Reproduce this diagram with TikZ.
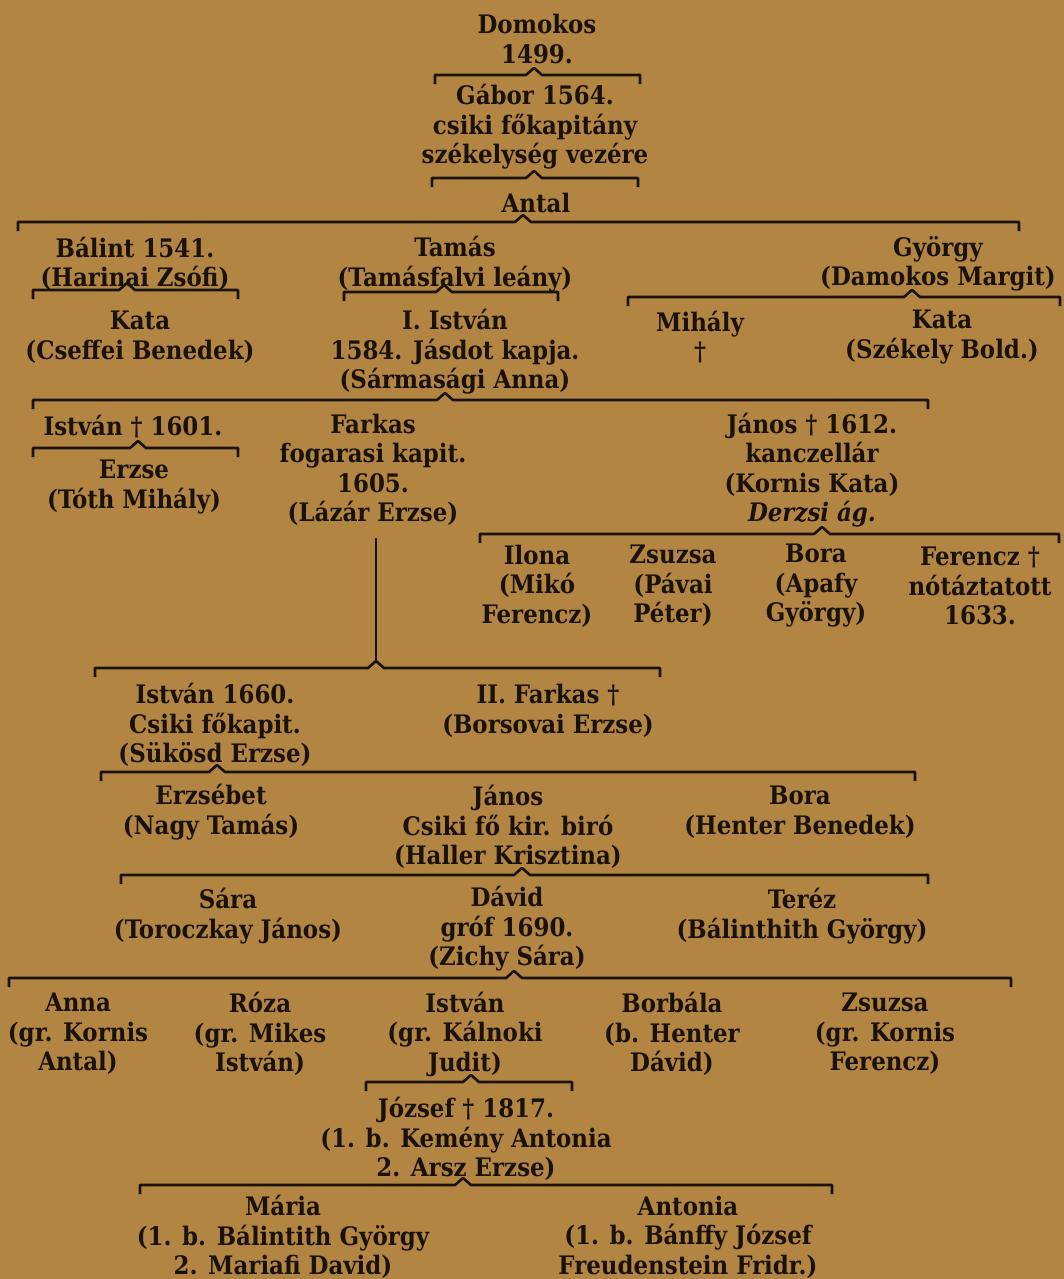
\documentclass[tikz,border=0pt]{standalone}
\usepackage{fontspec}
\setmainfont{DejaVu Serif Condensed}
\usepackage{xcolor}
\usetikzlibrary{calc}
\definecolor{paper}{RGB}{178,134,66}
\definecolor{ink}{RGB}{26,18,10}
\tikzset{
    person/.style={align=center, inner sep=1pt, text=ink,
        font=\fontsize{14.5}{16.8}\selectfont\bfseries},
    kinline/.style={draw=ink, line width=1.5pt, line join=round},
}
\NewDocumentCommand{\kinbrace}{%
    O{0}    % shift of the tip from the parent's axis
    mm      % left and right ends of the brace
    m       % parent node
    }{%
    \draw[kinline] ($(#2)+(0,9)$) -- (#2)
        -- ($(#4.center |- #2)+(#1-8,0)$)
        -- ($(#4.center |- #2)+(#1,-7)$)
        -- ($(#4.center |- #2)+(#1+8,0)$)
        -- (#3) -- ($(#3)+(0,9)$);
}

\begin{document}
\begin{tikzpicture}[x=0.02cm, y=-0.02cm]
    \useasboundingbox (0,0) rectangle (1064,1279);
    \fill[paper] (0,0) rectangle (1064,1279);
    % generations, top to bottom
    \node[person] (domokos) at (537,39) {Domokos\\1499.};
    \node[person] (gabor) at (535,127) {Gábor 1564.\\csiki főkapitány\\székelység vezére};
    \node[person] (antal) at (536,203) {Antal};
    \node[person] (balint) at (135,264) {Bálint 1541.\\(Harinai Zsófi)};
    \node[person] (tamas) at (455,264) {Tamás\\(Tamásfalvi leány)};
    \node[person] (gyorgy) at (938,264) {György\\(Damokos Margit)};
    \node[person] (kataB) at (140,337) {Kata\\(Cseffei Benedek)};
    \node[person] (istvanI) at (455,352) {I. István\\1584. Jásdot kapja.\\(Sármasági Anna)};
    \node[person] (mihaly) at (700,337) {Mihály\\†};
    \node[person] (kataS) at (942,337) {Kata\\(Székely Bold.)};
    \node[person] (istvanA) at (133,427) {István † 1601.};
    \node[person] (erzse) at (134,487) {Erzse\\(Tóth Mihály)};
    \node[person] (farkas) at (373,470) {Farkas\\fogarasi kapit.\\1605.\\(Lázár Erzse)};
    \node[person] (janosD) at (812,470) {János † 1612.\\kanczellár\\(Kornis Kata)\\\textit{Derzsi ág.}};
    \node[person] (ilona) at (537,586) {Ilona\\(Mikó\\Ferencz)};
    \node[person] (zsuzsaP) at (673,586) {Zsuzsa\\(Pávai\\Péter)};
    \node[person] (boraA) at (816,586) {Bora\\(Apafy\\György)};
    \node[person] (ferencz) at (980,586) {Ferencz †\\nótáztatott\\1633.};
    \node[person] (istvanC) at (215,725) {István 1660.\\Csiki főkapit.\\(Sükösd Erzse)};
    \node[person] (farkasII) at (548,711) {II. Farkas †\\(Borsovai Erzse)};
    \node[person] (erzsebet) at (211,812) {Erzsébet\\(Nagy Tamás)};
    \node[person] (janosB) at (508,827) {János\\Csiki fő kir. biró\\(Haller Krisztina)};
    \node[person] (boraH) at (800,812) {Bora\\(Henter Benedek)};
    \node[person] (sara) at (228,916) {Sára\\(Toroczkay János)};
    \node[person] (david) at (507,929) {Dávid\\gróf 1690.\\(Zichy Sára)};
    \node[person] (terez) at (802,916) {Teréz\\(Bálinthith György)};
    \node[person] (anna) at (78,1034) {Anna\\(gr. Kornis\\Antal)};
    \node[person] (roza) at (260,1034) {Róza\\(gr. Mikes\\István)};
    \node[person] (istvanK) at (465,1034) {István\\(gr. Kálnoki\\Judit)};
    \node[person] (borbala) at (672,1034) {Borbála\\(b. Henter\\Dávid)};
    \node[person] (zsuzsaK) at (885,1034) {Zsuzsa\\(gr. Kornis\\Ferencz)};
    \node[person] (jozsef) at (466,1139) {József † 1817.\\(1. b. Kemény Antonia\\2. Arsz Erzse)};
    \node[person] (maria) at (283,1237) {Mária\\(1. b. Bálintith György\\2. Mariafi David)};
    \node[person] (antonia) at (688,1237) {Antonia\\(1. b. Bánffy József\\Freudenstein Fridr.)};
    % braces under each parent
    \foreach \xl/\xr/\yb/\who/\dx in {435/640/75/domokos/-3, 432/638/178/gabor/-1,
        18/1019/222/antal/-13, 33/238/290/balint/-8, 344/558/292/tamas/-11,
        628/1060/297/gyorgy/-26, 33/928/400/istvanI/-10, 33/238/448/istvanA/5,
        480/1059/534/janosD/10, 95/660/668/farkas/3, 101/915/772/istvanC/2,
        121/928/875/janosB/14, 9/1011/978/david/7, 366/572/1082/istvanK/6,
        140/832/1185/jozsef/-3}{
        \coordinate (\who-l) at (\xl,\yb);
        \coordinate (\who-r) at (\xr,\yb);
        \kinbrace[\dx]{\who-l}{\who-r}{\who}
    }
    \draw[kinline] ($(farkas.south)+(3,10)$) -- ($(farkas.south |- farkas-l)+(3,-7)$);
\end{tikzpicture}
\end{document}
